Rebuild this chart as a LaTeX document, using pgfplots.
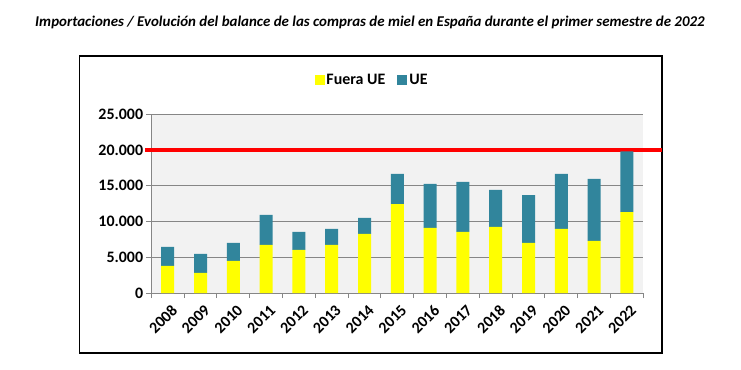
\documentclass[border=0pt]{standalone}
\usepackage{pgfplots}
\pgfplotsset{compat=1.18}
\usepackage{fontspec}
\setmainfont{Carlito}
\definecolor{ueteal}{HTML}{31859C}
\definecolor{fuera}{HTML}{FFFF00}
\definecolor{plotbg}{HTML}{F2F2F2}
\definecolor{gridc}{HTML}{868686}
\begin{document}
\begin{tikzpicture}[x=1bp,y=1bp]
\useasboundingbox (0,0) rectangle (741,369);
\draw[black, line width=1.2bp] (79.5,16) rectangle (662,313);
\node[font=\fontsize{15}{17}\selectfont\bfseries\itshape] at (370,347) {Importaciones / Evolución del balance de las compras de miel en España durante el primer semestre de 2022};
\begin{axis}[
  at={(151.3bp,76bp)}, anchor=south west,
  scale only axis, width=492bp, height=178.7bp,
  ybar stacked, bar width=13bp,
  xmin=-0.5, xmax=14.5, ymin=0, ymax=25000,
  xtick={0,...,14},
  xticklabels={2008,2009,2010,2011,2012,2013,2014,2015,2016,2017,2018,2019,2020,2021,2022},
  minor xtick={-0.5,0.5,...,14.5},
  major x tick style={draw=none},
  minor tick length=5bp,
  ytick={0,5000,...,25000},
  major tick length=5bp,
  tick align=outside, tick pos=left,
  tick style={gridc, line width=1bp},
  scaled y ticks=false,
  /pgf/number format/.cd, fixed, precision=0, 1000 sep={.}, assume math mode=true,
  /pgfplots/.cd,
  yticklabel style={font=\fontsize{16}{18}\selectfont\bfseries, inner sep=3bp},
  xticklabel style={font=\fontsize{16}{18}\selectfont\bfseries, rotate=45, anchor=north east, inner sep=2bp, yshift=-4bp},
  axis background/.style={fill=plotbg},
  ymajorgrids, grid style={gridc, line width=1bp},
  axis line style={gridc, line width=1bp},
  axis x line*=bottom, axis y line*=left,
  clip=false,
  area legend,
  legend image code/.code={\fill[#1] (0bp,-5bp) rectangle (10bp,5bp);},
  legend columns=2,
  legend style={at={(0.4486,1.192)}, anchor=center, draw=none, fill=none,
    font=\fontsize{16}{18}\selectfont\bfseries,
    /tikz/every even column/.append style={column sep=10bp}},
]
\addplot[fill=fuera, draw=none] coordinates {
(0,3780) (1,2800) (2,4480) (3,6720) (4,6020) (5,6720) (6,8260) (7,12450)
(8,9100) (9,8540) (10,9240) (11,7000) (12,8960) (13,7280) (14,11330)};
\addplot[fill=ueteal, draw=none] coordinates {
(0,2660) (1,2660) (2,2520) (3,4200) (4,2520) (5,2240) (6,2240) (7,4200)
(8,6150) (9,7000) (10,5170) (11,6710) (12,7690) (13,8670) (14,8470)};
\legend{Fuera UE, UE}
\draw[red, line width=4.7bp] ([xshift=-6bp]axis cs:-0.5,20000) -- ([xshift=18.7bp]axis cs:14.5,20000);
\end{axis}
\end{tikzpicture}
\end{document}
